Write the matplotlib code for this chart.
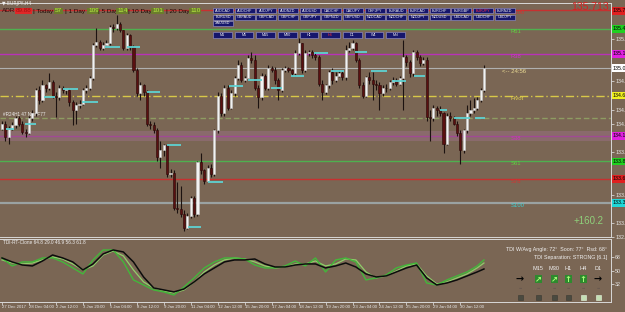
import matplotlib.pyplot as plt
from matplotlib.patches import Rectangle

plt.rcParams['font.family'] = ['Liberation Sans', 'DejaVu Sans']

W, H = 625, 312
BG = '#7a6654'

# EURJPY H4 bars (open of each bar = previous close)
open_first = 134.25
closes = [134.31, 134.14, 134.25, 134.29, 134.38, 134.31, 134.21, 134.20, 134.38, 134.44,
          134.73, 134.60, 134.79, 134.75, 134.83, 134.66, 134.64, 134.75, 134.73, 134.73,
          134.58, 134.48, 134.54, 134.56, 134.73, 134.75, 134.88, 135.29, 135.33, 135.25,
          135.29, 135.31, 135.51, 135.50, 135.55, 135.48, 135.25, 135.41, 135.26, 134.98,
          134.69, 134.79, 134.70, 134.31, 134.29, 134.23, 133.89, 133.98, 134.04, 133.69,
          133.70, 133.26, 133.25, 133.19, 133.01, 133.16, 133.39, 133.19, 133.83, 133.73,
          133.60, 133.76, 133.69, 134.23, 134.66, 134.44, 134.75, 134.51, 134.69, 134.88,
          135.04, 134.85, 134.88, 135.13, 135.10, 134.75, 134.64, 134.91, 134.75, 135.00,
          134.98, 134.85, 134.73, 134.98, 135.00, 134.98, 134.94, 135.19, 135.31, 134.98,
          135.19, 135.20, 135.16, 135.14, 134.81, 134.70, 134.79, 134.95, 134.85, 134.91,
          134.94, 134.89, 135.23, 135.25, 135.31, 135.10, 134.79, 134.66, 134.89, 134.85,
          134.81, 134.79, 134.69, 134.76, 134.75, 134.83, 134.85, 134.81, 134.88, 135.14,
          135.08, 134.94, 135.20, 135.14, 135.06, 135.10, 134.39, 134.38, 134.50, 134.48,
          134.44, 134.06, 134.41, 134.38, 134.31, 134.20, 133.98, 134.23, 134.44, 134.48,
          134.51, 134.60, 134.73, 135.00]
highs = [134.35, 134.34, 134.28, 134.33, 134.41, 134.40, 134.35, 134.25, 134.41, 134.48,
         134.76, 134.78, 134.85, 134.81, 134.94, 134.85, 134.70, 134.79, 134.78, 134.76,
         134.75, 134.61, 134.58, 134.60, 134.75, 134.79, 134.90, 135.31, 135.50, 135.35,
         135.33, 135.35, 135.54, 135.55, 135.66, 135.58, 135.48, 135.44, 135.43, 135.29,
         135.00, 134.83, 134.81, 134.73, 134.35, 134.33, 134.26, 134.10, 134.06, 134.06,
         133.75, 133.73, 133.58, 133.54, 133.23, 133.20, 133.41, 133.41, 133.85, 133.94,
         133.75, 133.79, 133.81, 134.25, 134.70, 134.69, 134.79, 134.79, 134.73, 134.91,
         135.10, 135.08, 134.91, 135.16, 135.20, 135.16, 134.79, 134.94, 134.93, 135.04,
         135.03, 135.01, 134.88, 135.00, 135.03, 135.01, 134.99, 135.23, 135.38, 135.31,
         135.23, 135.23, 135.23, 135.20, 135.16, 134.85, 134.81, 134.98, 135.00, 134.95,
         134.98, 134.96, 135.29, 135.33, 135.35, 135.33, 135.13, 134.83, 134.91, 134.95,
         134.95, 134.85, 134.83, 134.79, 134.80, 134.85, 134.89, 134.88, 134.91, 135.35,
         135.16, 135.10, 135.23, 135.23, 135.16, 135.14, 135.14, 134.48, 134.54, 134.53,
         134.53, 134.45, 134.44, 134.45, 134.40, 134.34, 134.23, 134.25, 134.54, 134.60,
         134.63, 134.64, 134.75, 135.04]
lows = [134.23, 134.10, 134.06, 134.23, 134.26, 134.28, 134.18, 134.14, 134.18, 134.35,
        134.41, 134.55, 134.58, 134.70, 134.73, 134.63, 134.39, 134.60, 134.69, 134.68,
        134.53, 134.29, 134.31, 134.50, 134.54, 134.69, 134.73, 134.85, 135.26, 135.23,
        135.23, 135.26, 135.29, 135.45, 135.48, 135.45, 135.23, 135.23, 135.23, 134.95,
        134.65, 134.60, 134.66, 134.28, 134.25, 134.19, 133.85, 133.76, 133.91, 133.65,
        133.65, 133.23, 133.20, 133.15, 132.98, 133.00, 133.14, 133.15, 133.16, 133.69,
        133.56, 133.58, 133.65, 133.66, 134.19, 134.40, 134.41, 134.48, 134.49, 134.66,
        134.85, 134.83, 134.83, 134.85, 135.06, 134.73, 134.50, 134.61, 134.73, 134.73,
        134.95, 134.80, 134.60, 134.70, 134.95, 134.95, 134.90, 134.91, 135.16, 134.94,
        134.95, 135.15, 135.13, 135.10, 134.78, 134.60, 134.68, 134.76, 134.81, 134.83,
        134.89, 134.85, 134.86, 135.20, 135.23, 135.08, 134.75, 134.63, 134.64, 134.81,
        134.60, 134.73, 134.48, 134.65, 134.70, 134.73, 134.79, 134.78, 134.79, 134.48,
        135.03, 134.89, 134.90, 135.10, 135.03, 135.04, 134.35, 134.10, 134.35, 134.41,
        134.40, 133.94, 134.04, 134.35, 134.29, 134.16, 133.81, 133.95, 134.19, 134.41,
        134.44, 134.48, 134.58, 134.70]

# short cyan markers: start bar, end bar, price
marker_start = [1.3, 6.7, 12.6, 18, 23.7, 30.5, 37, 43, 49, 55.3, 61, 67.3,
                73, 79.8, 85.8, 92.6, 97.7, 104.6, 109.6, 115.6, 122.2, 130, 134.1, 140.4]
marker_end = [3.7, 10.2, 15.6, 22.5, 28.4, 35, 41, 47, 53, 59, 65.5, 71.4,
              77, 83, 89.6, 96.6, 101.6, 108.2, 114.1, 120, 125.5, 132, 138.9, 143.4]
marker_price = [134.25, 134.31, 134.64, 134.74, 134.58, 135.26, 135.26, 134.70, 134.04, 133.03, 133.58, 134.78,
                134.86, 134.76, 134.90, 135.19, 134.96, 135.20, 134.96, 134.84, 134.90, 134.48, 134.38, 134.38]

# pivot levels
level_price = [135.725, 135.49, 135.18, 134.66, 134.16, 133.84, 133.625, 133.325]
level_name = ['R100', 'R61', 'R38', 'Pivot', 'S38', 'S61', 'S78', 'S100']
level_color = ['#c83030', '#4fb04f', '#b832b8', '#d8c848', '#a04a94', '#4fb04f', '#c83030', '#9aa2a2']
label_color = ['#d83030', '#60d040', '#d030d0', '#e0d050', '#d030c0', '#60d040', '#d83030', '#40d0d0']
current_price = 135.00
olive_level = 134.38

# price tags on the right scale
tag_price = [135.713, 135.49, 135.18, 135.00, 134.66, 134.16, 133.84, 133.625, 133.325]
tag_color = ['#e02020', '#20d020', '#e020e0', '#ffffff', '#f0f020', '#e020e0', '#20d020', '#e02020', '#20d8d8']
price_ticks = [135.540, 135.364, 135.188, 135.012, 134.836, 134.660, 134.484, 134.308,
               134.132, 133.956, 133.780, 133.604, 133.428, 133.252, 133.076, 132.900]

# TDI indicator (sampled every 3 bars)
tdi_bars = list(range(0, 142, 3)) + [143]
tdi_price = [67.0, 56.2, 61.6, 61.6, 67.0, 67.0, 61.6, 53.5, 45.4, 64.3,
             77.8, 77.8, 61.6, 37.3, 30.5, 23.8, 21.1, 17.0, 27.8, 40.0,
             53.5, 61.6, 67.0, 67.0, 65.6, 57.5, 53.5, 53.5, 56.2, 62.9,
             56.2, 67.0, 48.1, 64.3, 67.0, 61.6, 37.3, 40.0, 44.0, 53.5,
             57.5, 60.2, 33.2, 30.5, 37.3, 42.7, 48.1, 56.2, 64.3]
tdi_signal = [64.3, 60.2, 58.9, 60.2, 64.3, 68.3, 65.6, 58.9, 50.8, 56.2,
              71.0, 76.4, 69.7, 50.8, 34.6, 26.5, 22.4, 19.7, 23.8, 34.6,
              48.1, 57.5, 64.3, 67.0, 65.6, 61.6, 56.2, 53.5, 54.8, 58.9,
              58.9, 62.9, 56.2, 58.9, 65.6, 64.3, 48.1, 40.0, 42.7, 49.4,
              56.2, 58.9, 42.7, 31.9, 34.6, 40.0, 45.4, 53.5, 60.2]
tdi_trade = [67.0, 61.6, 57.5, 56.2, 62.9, 71.0, 67.0, 61.6, 50.8, 58.9,
             72.4, 77.8, 75.1, 61.6, 41.3, 26.5, 23.8, 21.1, 25.1, 34.6,
             45.4, 53.5, 61.6, 64.3, 64.3, 65.6, 58.9, 54.8, 54.8, 57.5,
             58.9, 58.9, 53.5, 56.2, 60.2, 54.8, 45.4, 41.3, 42.7, 48.1,
             53.5, 57.5, 40.0, 30.5, 33.2, 37.3, 42.7, 48.1, 52.1]

time_labels = ['27 Dec 2017', '28 Dec 04:00', '2 Jan 12:00', '3 Jan 20:00', '5 Jan 04:00',
               '8 Jan 12:00', '9 Jan 20:00', '11 Jan 04:00', '12 Jan 12:00', '15 Jan 20:00',
               '17 Jan 04:00', '18 Jan 12:00', '19 Jan 20:00', '23 Jan 04:00', '24 Jan 12:00',
               '25 Jan 20:00', '29 Jan 04:00', '30 Jan 12:00']

adr_names = ['| Today', '| 1 Day', '| 5 Day', '| 10 Day', '| 20 Day']
adr_values = ['57', '109', '114', '101', '110']

pairs_row1 = ['AUDCAD', 'AUDCHF', 'AUDJPY', 'AUDNZD', 'AUDUSD', 'CADCHF', 'CADJPY',
              'CHFJPY', 'EURAUD', 'EURCAD', 'EURCHF', 'EURGBP', 'EURJPY', 'EURNZD']
pairs_row2 = ['EURUSD', 'GBPAUD', 'GBPCAD', 'GBPCHF', 'GBPJPY', 'GBPNZD', 'GBPUSD',
              'NZDCAD', 'NZDCHF', 'NZDJPY', 'NZDUSD', 'USDCAD', 'USDCHF', 'USDJPY']
pairs_row3 = ['XAUUSD']
timeframes = ['M1', 'M5', 'M15', 'M30', 'H1', 'H4', 'D1', 'W1', 'MN']

tf_names = ['', 'M15', 'M30', 'H1', 'H4', 'D1']
tf_arrows = ['→', '↗', '↗', '↑', '↑', '→']
tf_up = [False, True, True, True, True, False]
tf_state = [False, False, False, False, True, True]


def fx(x):
    return x / W


def fy(y):
    return 1 - y / H


fig = plt.figure(figsize=(6.25, 3.12), dpi=100, facecolor=BG)
X0, X1 = -0.6, 180.7

ax = fig.add_axes([0, fy(237), fx(611), 234 / H], facecolor=BG)
ind = fig.add_axes([0, fy(302), fx(611), 63 / H], facecolor=BG)

# ---- candles
n = len(closes)
opens = [open_first] + closes[:-1]
for i in range(n):
    o, c = opens[i], closes[i]
    up = c >= o
    lo, hi = min(lows[i], o, c), max(highs[i], o, c)
    ax.vlines(i, lo, hi, color='#1c1210', lw=0.8, zorder=3)
    ax.bar(i, max(abs(c - o), 0.008), bottom=min(o, c), width=0.62, zorder=4,
           color='#f2f2f2' if up else '#5a1010',
           edgecolor='#c8c8c8' if up else '#2a0808', linewidth=0.4)

ax.hlines(marker_price, marker_start, marker_end, color='#5ed2d2', lw=1.3, zorder=5)

# ---- levels
ax.axhspan(134.10, 134.22, color='#8a6a6c', lw=0, zorder=1)
for p, name, col, lc in zip(level_price, level_name, level_color, label_color):
    ls = (0, (6, 2, 1, 2)) if name == 'Pivot' else '-'
    ax.axhline(p, color=col, lw=1.0 if name != 'S100' else 1.6, ls=ls, zorder=2)
    ax.text(151, p - 0.03, name, color=lc, fontsize=4.2, va='center', ha='left', zorder=6)
ax.axhline(current_price, color='#b0b0b0', lw=0.8, zorder=2)
ax.axhline(olive_level, color='#8e9c62', lw=1.0, ls=(0, (4, 2)), zorder=2)

ax.text(148.5, current_price - 0.035, '<-- 24:56', color='#ecdc94', fontsize=4.3, va='center')
ax.text(0.3, 134.43, '#R24H1 47 Nov F77', color='#f0f0f0', fontsize=3.3, va='center', zorder=6)

ax.set_xlim(X0, X1)
ax.set_ylim(132.9875, 135.8125)
ax.set_xticks([])
ax.yaxis.tick_right()
shown_ticks = [t for t in price_ticks if min(abs(t - p) for p in tag_price) > 0.08]
ax.set_yticks(shown_ticks)
ax.set_yticklabels([f'{v:.2f}' for v in shown_ticks])
ax.tick_params(axis='y', colors='#e8e8e8', labelsize=3.8, length=2, width=0.5, pad=1)
for s in ['top', 'right', 'bottom']:
    ax.spines[s].set_color('#d8d8d8')
    ax.spines[s].set_linewidth(0.7)
ax.spines['left'].set_visible(False)

for p, col in zip(tag_price, tag_color):
    ax.text(1.003, p, f'{p:.2f}', transform=ax.get_yaxis_transform(), fontsize=3.8,
            color='black', va='center', ha='left', clip_on=False, zorder=7,
            bbox=dict(boxstyle='square,pad=0.25', fc=col, ec='none'))

# ---- TDI panel
ind.plot(tdi_bars, tdi_signal, color='#8fcf6a', lw=0.9)
ind.plot(tdi_bars, tdi_price, color='#42b83a', lw=1.0)
ind.plot(tdi_bars, tdi_trade, color='#0c0c0c', lw=1.1)
ind.set_xlim(X0, X1)
ind.set_ylim(7.5, 92.6)
ind.yaxis.tick_right()
ind.set_yticks([68, 50, 32])
ind.tick_params(axis='y', colors='#e8e8e8', labelsize=3.8, length=2, width=0.5, pad=1)
ind.set_xticks(list(range(0, 8 * len(time_labels), 8)))
ind.set_xticklabels(time_labels, ha='left')
ind.tick_params(axis='x', colors='#e8e8e8', labelsize=3.1, length=2, width=0.5, pad=0.5)
for s in ['top', 'right', 'bottom']:
    ind.spines[s].set_color('#d8d8d8')
    ind.spines[s].set_linewidth(0.7)
ind.spines['left'].set_visible(False)

ind.text(0.3, 88, 'TDI-RT-Clone 64.8 29.0 46.9 56.3 61.8', color='#f0f0f0', fontsize=3.4, va='center')

fig.text(fx(607), fy(250), 'TDI W/Avg Angle: 72°  Soon: 77°  Rsd: 68°', color='#f0f0f0',
         fontsize=3.8, ha='right', va='center')
fig.text(fx(607), fy(258), 'TDI Separation: STRONG [6.1]', color='#f0f0f0',
         fontsize=3.8, ha='right', va='center')
tf_x = [520, 538, 554, 568, 583, 598]
for x, name, arrow, up, state in zip(tf_x, tf_names, tf_arrows, tf_up, tf_state):
    fig.text(fx(x), fy(268), name, color='#f0f0f0', fontsize=4.0, ha='center', va='center')
    if up:
        fig.patches.append(Rectangle((fx(x - 3.5), fy(283)), 7 / W, 8 / H, transform=fig.transFigure,
                                     fc='#2e8a2e', ec='none'))
        fig.text(fx(x), fy(279), arrow, color='#a8ff78', fontsize=6, ha='center', va='center',
                 fontweight='bold', family='DejaVu Sans')
    else:
        fig.text(fx(x), fy(279), arrow, color='#050505', fontsize=7, ha='center', va='center',
                 fontweight='bold', family='DejaVu Sans')
    fig.text(fx(x), fy(288), '▬', color='#6a5a50', fontsize=2.5, ha='center', va='center',
             family='DejaVu Sans')
    fig.patches.append(Rectangle((fx(x - 2.5), fy(299.5)), 5 / W, 5 / H, transform=fig.transFigure,
                                 fc='#c4e0b4' if state else '#4a4a40',
                                 ec='#e8f8e0' if state else '#3a3a32', lw=0.4))

# ---- header texts
fig.text(fx(2), fy(4), '▼ EURJPY,H4', color='#f0f0f0', fontsize=3.3, va='center',
         family=['DejaVu Sans'])
fig.text(fx(2), fy(11), 'ADR', color='#301010', fontsize=4.6, va='center')
fig.text(fx(16), fy(11), '89.88', color='#a01010', fontsize=4.6, va='center',
         bbox=dict(boxstyle='square,pad=0.1', fc='#e02828', ec='none'))
adr_x = [33, 65, 98, 128, 166]
box_x = [55, 88, 117, 152, 190]
for x, name, bx, val in zip(adr_x, adr_names, box_x, adr_values):
    fig.text(fx(x), fy(11), name, color='#1a0a04', fontsize=4.6, va='center')
    fig.text(fx(bx), fy(11), val, color='#b8f040', fontsize=4.6, va='center',
             bbox=dict(boxstyle='square,pad=0.1', fc='#6c7c2c', ec='none'))


def button(x, y, w, h, label, tcolor):
    fig.patches.append(Rectangle((fx(x), fy(y + h)), w / W, h / H, transform=fig.transFigure,
                                 fc='#16166c', ec='#9a9ad0', lw=0.4))
    fig.text(fx(x + w / 2), fy(y + h / 2), label, color=tcolor, fontsize=2.7,
             ha='center', va='center')


for r, row in enumerate([pairs_row1, pairs_row2, pairs_row3]):
    for k, name in enumerate(row):
        button(213 + 21.67 * k, 8 + 6.5 * r, 20, 5, name,
               '#ff3050' if name == 'EURJPY' else '#f0f0f0')
for k, name in enumerate(timeframes):
    button(213 + 21.67 * k, 32.3, 18.5, 5.4, name, '#ff3030' if name == 'H4' else '#f0f0f0')

fig.text(fx(609), fy(7.5), '135.713', color='#d82020', fontsize=7.5, ha='right', va='center')
fig.text(fx(604), fy(221), '+160.2', color='#8fd07a', fontsize=7, ha='right', va='center')

fig.savefig('out.png', dpi=100, facecolor=BG)
